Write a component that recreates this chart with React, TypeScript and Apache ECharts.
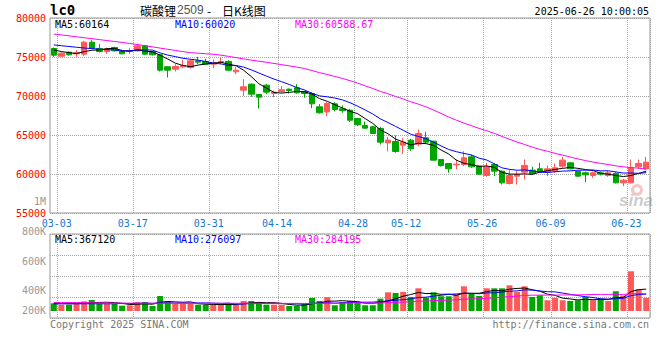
import React, { useEffect, useRef } from 'react';
import * as echarts from 'echarts';

const dates = [
  '03-03','03-04','03-05','03-06','03-07','03-10','03-11','03-12','03-13','03-14',
  '03-17','03-18','03-19','03-20','03-21','03-24','03-25','03-26','03-27','03-28',
  '03-31','04-01','04-02','04-03','04-07','04-08','04-09','04-10','04-11','04-14',
  '04-15','04-16','04-17','04-18','04-21','04-22','04-23','04-24','04-25','04-28',
  '04-29','04-30','05-06','05-07','05-08','05-09','05-12','05-13','05-14','05-15',
  '05-16','05-19','05-20','05-21','05-22','05-23','05-26','05-27','05-28','05-29',
  '05-30','06-03','06-04','06-05','06-06','06-09','06-10','06-11','06-12','06-13',
  '06-16','06-17','06-18','06-19','06-20','06-23','06-24','06-25','06-26'
];
const tickDates = ['03-03','03-17','03-31','04-14','04-28','05-12','05-26','06-09','06-23'];

const opens = [
  76090,75107,75620,75406,75364,76902,76090,75705,76218,75705,
  75705,75791,76432,75705,75278,73740,73441,73740,73654,74509,
  74423,74082,74295,74423,73099,70749,71518,70193,71390,70322,
  70578,70877,71048,70578,70322,68612,67971,68997,68356,68185,
  67117,66220,66049,65835,63998,64169,63698,64340,63827,64639,
  64211,61861,61348,61177,61219,62202,61006,59809,61219,60365,
  58784,59724,60236,60493,60664,60236,60365,61006,61433,60322,
  60151,59809,60151,59809,60066,58869,58869,60920,60664
];
const closes = [
  75235,75492,75278,75534,76902,76133,75705,76047,75791,75406,
  75791,76432,75364,75278,73313,73313,73783,73868,74509,74338,
  74082,74253,74423,73313,73313,71176,70236,69852,70493,70493,
  70792,70706,70407,70322,68997,67843,69040,68271,68142,66903,
  66305,65878,65194,64083,64340,62887,64083,63229,65194,64083,
  61776,61092,60665,61262,62074,60920,59980,60920,60365,58869,
  59809,59937,61091,60066,60322,60664,60792,61775,60664,59724,
  59895,60151,59980,60151,58869,59211,60835,61347,61518
];
const lows = [
  75022,75022,75193,75022,75107,76004,75577,75364,75705,75364,
  75364,75705,75278,75193,73142,72373,73142,73569,73526,74082,
  73996,73569,74082,73227,72800,70022,69894,68399,70236,69852,
  70407,70322,70279,69766,68442,67758,67416,68014,67843,66690,
  66134,65792,65109,63784,62887,62716,62545,62972,63570,63912,
  61733,60950,60151,60578,61006,60792,59895,59638,59724,58655,
  58655,58655,59297,59937,60151,59724,60151,60792,60578,59638,
  58955,59510,59809,59638,58784,58442,58784,60664,60493
];
const highs = [
  76218,75620,75705,75876,77073,77158,76646,76218,76304,75962,
  76133,76731,76560,75791,75364,73825,74082,74637,74723,75022,
  74765,74680,74936,74594,73740,72159,71603,70236,71561,70664,
  71262,70963,71518,70664,70493,68954,69211,69211,68783,68356,
  67202,66733,66134,66049,64767,64938,64596,64511,65707,65365,
  64254,61900,61400,61860,62928,62501,61091,61433,61347,60450,
  60578,60365,61860,60920,61433,61091,61347,62202,61518,60407,
  60322,60322,60322,60407,60236,59382,61860,61860,62202
];
const ma5 = [
  75900,75700,75550,75450,75688,75868,75910,76064,76116,75816,
  75748,75893,75757,75654,75236,74740,74210,73911,73757,73962,
  74116,74210,74321,74082,73877,73296,72492,71578,71014,70450,
  70373,70467,70578,70544,70245,69655,69322,68895,68459,68040,
  67732,67100,66484,65673,65160,64476,64117,63724,63947,63895,
  63673,63075,62562,61776,61374,61203,60980,61031,60852,60211,
  59989,59980,60014,59954,60245,60416,60587,60724,60843,60724,
  60570,60442,60083,59980,59809,59672,59809,60083,60356
];
const ma10 = [
  76550,76450,76350,76250,76150,76080,76000,75950,75900,75752,
  75808,75902,75911,75885,75526,75244,75052,74834,74706,74599,
  74428,74210,74116,73920,73920,73706,73351,72950,72548,72164,
  71835,71480,71078,70779,70348,70014,69895,69737,69502,69143,
  68694,68211,67690,67066,66600,66104,65609,65104,64810,64528,
  64075,63596,63143,62862,62635,62438,62028,61797,61314,60793,
  60596,60480,60523,60403,60228,60203,60284,60369,60399,60485,
  60493,60515,60404,60412,60267,60121,60126,60083,60168
];
const ma30 = [
  77950,77830,77710,77590,77470,77350,77230,77110,76990,76870,
  76740,76600,76450,76300,76140,75990,75840,75690,75560,75490,
  75420,75350,75240,75080,74920,74760,74600,74460,74320,74172,
  74023,73864,73702,73528,73264,72988,72766,72507,72252,71968,
  71652,71300,70961,70588,70289,69941,69618,69263,68953,68611,
  68201,67762,67304,66902,66527,66185,65844,65546,65208,64821,
  64455,64096,63785,63443,63154,62915,62640,62423,62174,61935,
  61721,61530,61356,61225,61043,60920,60812,60749,60627
];
const volumes = [
  127000,105000,105000,138000,160000,182000,127000,116000,116000,88000,
  94000,144000,149000,83000,248000,160000,116000,116000,116000,105000,
  105000,105000,105000,127000,105000,166000,166000,149000,105000,105000,
  105000,83000,83000,116000,215000,166000,230000,95000,150000,167000,
  139000,95000,95000,205000,310000,299000,316000,233000,376000,222000,
  310000,244000,244000,277000,409000,293000,249000,376000,376000,376000,
  426000,316000,409000,233000,260000,178000,216000,178000,167000,178000,
  233000,178000,205000,167000,327000,255000,658000,360000,216000
];
const volMa5 = [
  122000,122000,122000,122000,127000,138000,142000,145000,140000,126000,
  108000,112000,118000,112000,144000,157000,151000,145000,151000,123000,
  112000,109000,107000,109000,109000,122000,134000,143000,138000,138000,
  126000,109000,96000,98000,120000,133000,162000,164000,171000,162000,
  156000,129000,129000,140000,169000,201000,245000,273000,307000,289000,
  291000,277000,279000,259000,297000,293000,294000,321000,341000,334000,
  361000,374000,381000,352000,329000,279000,259000,213000,200000,183000,
  194000,187000,192000,192000,222000,226000,322000,353000,363000
];
const volMa10 = [
  120000,120000,120000,120000,120000,120000,120000,120000,120000,126000,
  123000,127000,131000,126000,135000,133000,131000,131000,131000,133000,
  134000,130000,126000,130000,116000,117000,122000,125000,124000,124000,
  124000,122000,119000,118000,129000,129000,136000,130000,135000,141000,
  144000,146000,147000,156000,165000,179000,187000,201000,224000,229000,
  246000,261000,276000,283000,293000,292000,286000,300000,300000,315000,
  327000,334000,351000,346000,331000,320000,317000,297000,276000,256000,
  237000,223000,203000,196000,203000,210000,255000,273000,278000
];
const volMa30 = [
  140000,140000,140000,140000,139000,136000,134000,133000,132000,131000,
  130000,130000,130000,129000,129000,129000,129000,129000,128000,128000,
  128000,128000,128000,128000,128000,128000,128000,128000,128000,128000,
  127000,126000,126000,125000,127000,126000,130000,129000,130000,133000,
  134000,133000,131000,135000,137000,141000,148000,152000,161000,165000,
  171000,176000,181000,186000,196000,200000,203000,210000,219000,228000,
  239000,247000,258000,262000,263000,264000,263000,266000,266000,267000,
  270000,273000,276000,275000,276000,274000,286000,290000,285000
];
const volTickLabels = ['800K', '600K', '400K', '200K'];
const priceLegend = ['MA5:60164', 'MA10:60020', 'MA30:60588.67'];
const volLegend = ['MA5:367120', 'MA10:276097', 'MA30:284195'];

const RED = '#ff5858';
const GREEN = '#00a600';
const MONO = '"DejaVu Sans Mono", monospace';
const dotted = { color: '#a6a6a6', type: [1, 1] as number[], width: 1 };

function txt(text: string, x: number, y: number, fill: string, font: string, align = 'left') {
  return {
    type: 'text', x, y, silent: true, z: 100,
    style: { text, fill, font, textAlign: align, align, textVerticalAlign: 'middle', verticalAlign: 'middle' },
  };
}

function buildOption() {
  const candleData = dates.map((_, i) => [opens[i], closes[i], lows[i], highs[i]]);
  const splitInterval = (i: number) => i > 0 && tickDates.indexOf(dates[i - 1]) >= 0;
  const volLabelY = [231, 261, 290, 310];
  const line = (data: number[], color: string, xi: number) => ({
    type: 'line', data, xAxisIndex: xi, yAxisIndex: xi, showSymbol: false, symbol: 'none',
    silent: true, z: 5, lineStyle: { color, width: 1 }, itemStyle: { color },
  });
  return {
    animation: false,
    backgroundColor: '#fff',
    grid: [
      { left: 50, top: 18, width: 600, height: 195, show: true, borderColor: '#999', borderWidth: 1 },
      { left: 50, top: 234, width: 600, height: 84, show: true, borderColor: '#999', borderWidth: 1 },
    ],
    xAxis: [
      {
        type: 'category', gridIndex: 0, data: dates, boundaryGap: true,
        axisLine: { show: false }, axisTick: { show: false },
        axisLabel: {
          interval: (i: number, v: string) => tickDates.indexOf(v) >= 0,
          color: '#1478d2', fontFamily: MONO, fontSize: 10, margin: 5, padding: [0, 0, 0, 6],
        },
        splitLine: { show: true, interval: splitInterval, lineStyle: dotted },
      },
      {
        type: 'category', gridIndex: 1, data: dates, boundaryGap: true,
        axisLine: { show: false }, axisTick: { show: false }, axisLabel: { show: false },
        splitLine: { show: true, interval: splitInterval, lineStyle: dotted },
      },
    ],
    yAxis: [
      {
        type: 'value', gridIndex: 0, min: 55000, max: 80000, interval: 5000,
        axisLine: { show: false }, axisTick: { show: false },
        axisLabel: {
          color: '#ff0000', fontFamily: MONO, fontSize: 10, margin: 4,
          formatter: (v: number) => String(v),
        },
        splitLine: { show: true, lineStyle: dotted },
      },
      {
        type: 'value', gridIndex: 1, min: -116000, max: 1276000, interval: 348000,
        axisLine: { show: false }, axisTick: { show: false }, axisLabel: { show: false },
        splitLine: { show: true, lineStyle: dotted },
      },
    ],
    series: [
      {
        type: 'candlestick', xAxisIndex: 0, yAxisIndex: 0, data: candleData, barWidth: 6,
        itemStyle: { color: RED, color0: GREEN, borderColor: RED, borderColor0: GREEN, borderWidth: 1 },
      },
      line(ma5, '#000000', 0),
      line(ma10, '#0000ff', 0),
      line(ma30, '#ff00ff', 0),
      {
        type: 'bar', xAxisIndex: 1, yAxisIndex: 1, data: volumes, barWidth: 6,
        itemStyle: { color: (p: any) => (closes[p.dataIndex] >= opens[p.dataIndex] ? RED : GREEN) },
      },
      line(volMa5, '#000000', 1),
      line(volMa10, '#0000ff', 1),
      line(volMa30, '#ff00ff', 1),
    ],
    graphic: [
      txt('lc0', 50, 10, '#000', `bold 14px ${MONO}`),
      txt('碳酸锂', 140, 10, '#000', '12px "Noto Sans CJK SC"'),
      txt('2509', 177, 10, '#555', '12px "Liberation Sans"'),
      txt('-', 207, 10, '#000', '12px "Noto Sans CJK SC"'),
      txt('日K线图', 222, 10, '#000', '12px "Noto Sans CJK SC"'),
      txt('2025-06-26 10:00:05', 649, 11, '#000', `10px ${MONO}`, 'right'),
      txt(priceLegend[0], 55, 24, '#000', `10px ${MONO}`),
      txt(priceLegend[1], 175, 24, '#0000ff', `10px ${MONO}`),
      txt(priceLegend[2], 295, 24, '#ff00ff', `10px ${MONO}`),
      txt(volLegend[0], 55, 239, '#000', `10px ${MONO}`),
      txt(volLegend[1], 175, 239, '#0000ff', `10px ${MONO}`),
      txt(volLegend[2], 295, 239, '#ff00ff', `10px ${MONO}`),
      txt('1M', 46, 201, '#999', `10px ${MONO}`, 'right'),
      ...volTickLabels.map((t, k) => txt(t, 46, volLabelY[k], '#999', `10px ${MONO}`, 'right')),
      txt('Copyright 2025 SINA.COM', 50, 324, '#777', `10px ${MONO}`),
      txt('http://finance.sina.com.cn', 649, 324, '#777', `10px ${MONO}`, 'right'),
      {
        type: 'ring', silent: true, z: 90,
        shape: { cx: 637, cy: 190, r: 6, r0: 3 },
        style: { fill: 'rgba(235,90,90,0.35)' },
      },
      txt('sina', 619, 200, 'rgba(140,140,140,0.45)', 'italic bold 17px "Liberation Sans"'),
    ],
  };
}

export default function App() {
  const ref = useRef<HTMLDivElement>(null);
  useEffect(() => {
    if (!ref.current) return;
    const chart = echarts.init(ref.current, undefined, { renderer: 'svg' });
    chart.setOption(buildOption() as any);
    return () => chart.dispose();
  }, []);
  return (
    <div
      ref={ref}
      style={{ position: 'fixed', left: 0, top: 0, width: 660, height: 360, background: '#fff' }}
    />
  );
}
